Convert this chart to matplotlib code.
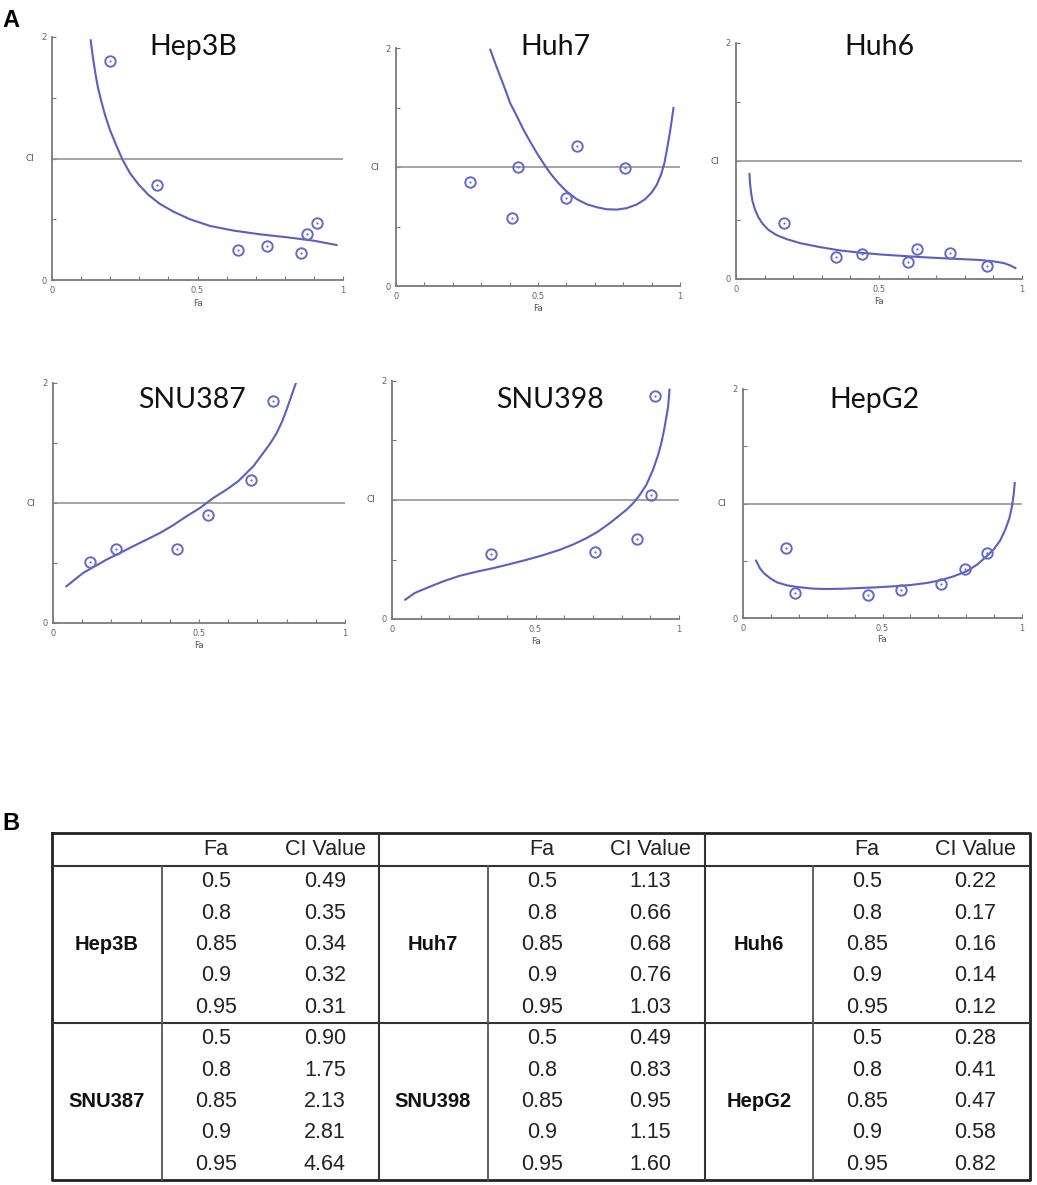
import numpy as np
import matplotlib
matplotlib.use("Agg")
import matplotlib.pyplot as plt
from matplotlib.ticker import FixedLocator, FixedFormatter

# ---- data ----
cell_lines = ["Hep3B", "Huh7", "Huh6", "SNU387", "SNU398", "HepG2"]

# measured points (Fa, CI)
hep3b_fa = [0.20, 0.36, 0.64, 0.74, 0.856, 0.875, 0.91]
hep3b_ci = [1.80, 0.78, 0.25, 0.28, 0.22, 0.38, 0.47]
huh7_fa = [0.259, 0.408, 0.431, 0.598, 0.638, 0.808]
huh7_ci = [0.875, 0.575, 1.0, 0.743, 1.178, 0.99]
huh6_fa = [0.168, 0.349, 0.439, 0.603, 0.634, 0.749, 0.877]
huh6_ci = [0.476, 0.183, 0.214, 0.146, 0.254, 0.223, 0.113]
snu387_fa = [0.128, 0.217, 0.424, 0.531, 0.677, 0.754]
snu387_ci = [0.506, 0.617, 0.617, 0.90, 1.194, 1.853]
snu398_fa = [0.346, 0.706, 0.855, 0.904, 0.918]
snu398_ci = [0.55, 0.559, 0.673, 1.039, 1.872]
hepg2_fa = [0.154, 0.188, 0.447, 0.565, 0.711, 0.797, 0.875]
hepg2_ci = [0.611, 0.215, 0.201, 0.247, 0.297, 0.431, 0.568]

# fitted CI curves, sampled along the drawn line
hep3b_cfa = [0.133, 0.140, 0.148, 0.157, 0.168, 0.182, 0.199, 0.220, 0.242, 0.268, 0.297,
             0.331, 0.371, 0.417, 0.474, 0.543, 0.623, 0.715, 0.806, 0.898, 0.978]
hep3b_cci = [1.973, 1.841, 1.717, 1.593, 1.484, 1.360, 1.236, 1.113, 0.992, 0.879, 0.788,
             0.701, 0.626, 0.563, 0.500, 0.445, 0.407, 0.376, 0.352, 0.324, 0.288]
huh7_cfa = [0.332, 0.349, 0.367, 0.385, 0.402, 0.426, 0.449, 0.472, 0.496, 0.519, 0.543,
            0.572, 0.601, 0.637, 0.672, 0.707, 0.742, 0.777, 0.812, 0.848, 0.877, 0.900,
            0.918, 0.933, 0.945, 0.955, 0.965, 0.972, 0.977]
huh7_cci = [1.986, 1.874, 1.761, 1.649, 1.537, 1.425, 1.313, 1.215, 1.117, 1.032, 0.948,
            0.864, 0.794, 0.729, 0.687, 0.662, 0.645, 0.642, 0.654, 0.685, 0.729, 0.785,
            0.850, 0.934, 1.032, 1.159, 1.299, 1.411, 1.495]
huh6_cfa = [0.047, 0.049, 0.053, 0.058, 0.067, 0.078, 0.093, 0.113, 0.142, 0.177, 0.224,
            0.294, 0.364, 0.434, 0.504, 0.574, 0.644, 0.714, 0.784, 0.854, 0.901, 0.936,
            0.959, 0.977]
huh6_cci = [0.890, 0.811, 0.727, 0.656, 0.586, 0.524, 0.468, 0.417, 0.372, 0.338, 0.304,
            0.270, 0.242, 0.223, 0.208, 0.197, 0.186, 0.177, 0.169, 0.161, 0.149, 0.135,
            0.115, 0.093]
snu387_cfa = [0.046, 0.074, 0.103, 0.143, 0.183, 0.229, 0.274, 0.320, 0.366, 0.411, 0.457,
              0.503, 0.549, 0.594, 0.634, 0.686, 0.720, 0.745, 0.766, 0.785, 0.800, 0.816,
              0.831]
snu387_cci = [0.306, 0.361, 0.417, 0.472, 0.528, 0.583, 0.639, 0.694, 0.750, 0.814, 0.889,
              0.958, 1.042, 1.111, 1.181, 1.306, 1.417, 1.500, 1.583, 1.681, 1.778, 1.889,
              1.994]
snu398_cfa = [0.046, 0.079, 0.120, 0.178, 0.236, 0.294, 0.352, 0.410, 0.468, 0.526, 0.584,
              0.631, 0.677, 0.718, 0.758, 0.787, 0.816, 0.840, 0.863, 0.886, 0.909, 0.927,
              0.938, 0.948, 0.956, 0.962, 0.967]
snu398_cci = [0.162, 0.218, 0.260, 0.316, 0.363, 0.397, 0.427, 0.461, 0.497, 0.536, 0.581,
              0.626, 0.679, 0.735, 0.804, 0.860, 0.916, 0.972, 1.042, 1.126, 1.251, 1.377,
              1.475, 1.587, 1.698, 1.782, 1.927]
hepg2_cfa = [0.047, 0.060, 0.074, 0.098, 0.122, 0.158, 0.194, 0.253, 0.301, 0.361, 0.421,
             0.480, 0.540, 0.600, 0.659, 0.707, 0.755, 0.803, 0.839, 0.869, 0.898, 0.922,
             0.940, 0.955, 0.964, 0.970, 0.974]
hepg2_cci = [0.501, 0.437, 0.393, 0.346, 0.311, 0.285, 0.271, 0.256, 0.253, 0.256, 0.262,
             0.268, 0.277, 0.288, 0.306, 0.329, 0.364, 0.410, 0.466, 0.530, 0.597, 0.678,
             0.771, 0.873, 0.975, 1.077, 1.179]

points = [(hep3b_fa, hep3b_ci), (huh7_fa, huh7_ci), (huh6_fa, huh6_ci),
          (snu387_fa, snu387_ci), (snu398_fa, snu398_ci), (hepg2_fa, hepg2_ci)]
curves = [(hep3b_cfa, hep3b_cci), (huh7_cfa, huh7_cci), (huh6_cfa, huh6_cci),
          (snu387_cfa, snu387_cci), (snu398_cfa, snu398_cci), (hepg2_cfa, hepg2_cci)]

# table B
fa_levels = ["0.5", "0.8", "0.85", "0.9", "0.95"]
ci_hep3b = ["0.49", "0.35", "0.34", "0.32", "0.31"]
ci_huh7 = ["1.13", "0.66", "0.68", "0.76", "1.03"]
ci_huh6 = ["0.22", "0.17", "0.16", "0.14", "0.12"]
ci_snu387 = ["0.90", "1.75", "2.13", "2.81", "4.64"]
ci_snu398 = ["0.49", "0.83", "0.95", "1.15", "1.60"]
ci_hepg2 = ["0.28", "0.41", "0.47", "0.58", "0.82"]
table_ci = [ci_hep3b, ci_huh7, ci_huh6, ci_snu387, ci_snu398, ci_hepg2]

# ---- layout (pixels) ----
W, H = 1037, 1185
fig = plt.figure(figsize=(W / 100, H / 100), dpi=100)

# left, right, top (CI=2), bottom (CI=0)
boxes = [(52, 343, 37, 280), (396, 680, 48, 286), (736, 1022, 43, 279),
         (53, 345, 383, 623), (392, 679, 381, 619), (743, 1022, 389, 618)]
title_pos = [(193, 55), (555, 55), (879, 55), (192, 408), (550, 408), (874, 408)]

line_col = "#5a5fc4"
pt_col = "#6469cc"

for i, name in enumerate(cell_lines):
    l, r, t, b = boxes[i]
    ax = fig.add_axes([l / W, 1 - b / H, (r - l) / W, (b - t) / H])
    ax.axhline(1, color="#8c8c8c", lw=1.1)
    ax.plot(curves[i][0], curves[i][1], color=line_col, lw=1.5, solid_joinstyle="round")
    ax.plot(points[i][0], points[i][1], "o", mfc="none", mec=pt_col, ms=7.5, mew=1.4)
    ax.plot(points[i][0], points[i][1], ".", color=pt_col, ms=1.2)
    ax.set_xlim(0, 1)
    ax.set_ylim(0, 2)
    for s in ["top", "right"]:
        ax.spines[s].set_visible(False)
    for s in ["left", "bottom"]:
        ax.spines[s].set_color("#7a7a7a")
        ax.spines[s].set_linewidth(1.3)
    ax.xaxis.set_major_locator(FixedLocator(np.linspace(0, 1, 11)))
    ax.xaxis.set_major_formatter(FixedFormatter(["0", "", "", "", "", "0.5", "", "", "", "", "1"]))
    ax.yaxis.set_major_locator(FixedLocator([0, 0.5, 1, 1.5, 2]))
    ax.yaxis.set_major_formatter(FixedFormatter(["0", "", "", "", "2"]))
    ax.tick_params(direction="in", length=3, width=0.8, color="#777777",
                   labelsize=6, labelcolor="#666666", pad=4)
    ax.text(0.5, -0.095, "Fa", transform=ax.transAxes, ha="center", va="center",
            fontsize=6.5, color="#555555")
    ax.text(-0.075, 0.5, "CI", transform=ax.transAxes, ha="center", va="center",
            fontsize=6.5, color="#555555")
    tx, ty = title_pos[i]
    fig.text(tx / W, 1 - ty / H, name, ha="center", va="baseline", fontsize=20.5,
             family="Lato", color="#111111")

fig.text(2 / W, 1 - 27 / H, "A", fontsize=17, fontweight="bold", family="Liberation Sans")
fig.text(2 / W, 1 - 830 / H, "B", fontsize=17, fontweight="bold", family="Liberation Sans")

# ---- table ----
axt = fig.add_axes([0, 0, 1, 1])
axt.set_xlim(0, W)
axt.set_ylim(H, 0)
axt.axis("off")

tl, tr, tt, tb = 52, 1030, 833, 1180
head_b, mid_y = 866, 1023
axt.plot([tl, tr, tr, tl, tl], [tt, tt, tb, tb, tt], color="#222222", lw=2)
for y in [head_b, mid_y]:
    axt.plot([tl, tr], [y, y], color="#333333", lw=1.5)
for x in [379, 705]:
    axt.plot([x, x], [tt, tb], color="#333333", lw=1.5)
for x in [162, 488, 813]:
    axt.plot([x, x], [head_b, tb], color="#555555", lw=1.3)

name_x = [107, 433, 759]
fa_x = [216, 542, 867]
ci_x = [325, 650, 975]
row_h = (mid_y - head_b) / 5
tfont = dict(family="Liberation Sans", fontsize=15.5, color="#222222", ha="center", va="center")

for g in range(3):
    axt.text(fa_x[g], (tt + head_b) / 2, "Fa", **tfont)
    axt.text(ci_x[g], (tt + head_b) / 2, "CI Value", **tfont)
    for blk, top in enumerate([head_b, mid_y]):
        k = blk * 3 + g
        axt.text(name_x[g], top + 2.5 * row_h, cell_lines[k], fontweight="bold",
                 **{**tfont, "fontsize": 14.5, "color": "#111111"})
        for j in range(5):
            yc = top + (j + 0.5) * row_h
            axt.text(fa_x[g], yc, fa_levels[j], **tfont)
            axt.text(ci_x[g], yc, table_ci[k][j], **tfont)

fig.savefig("out.png", dpi=100)
